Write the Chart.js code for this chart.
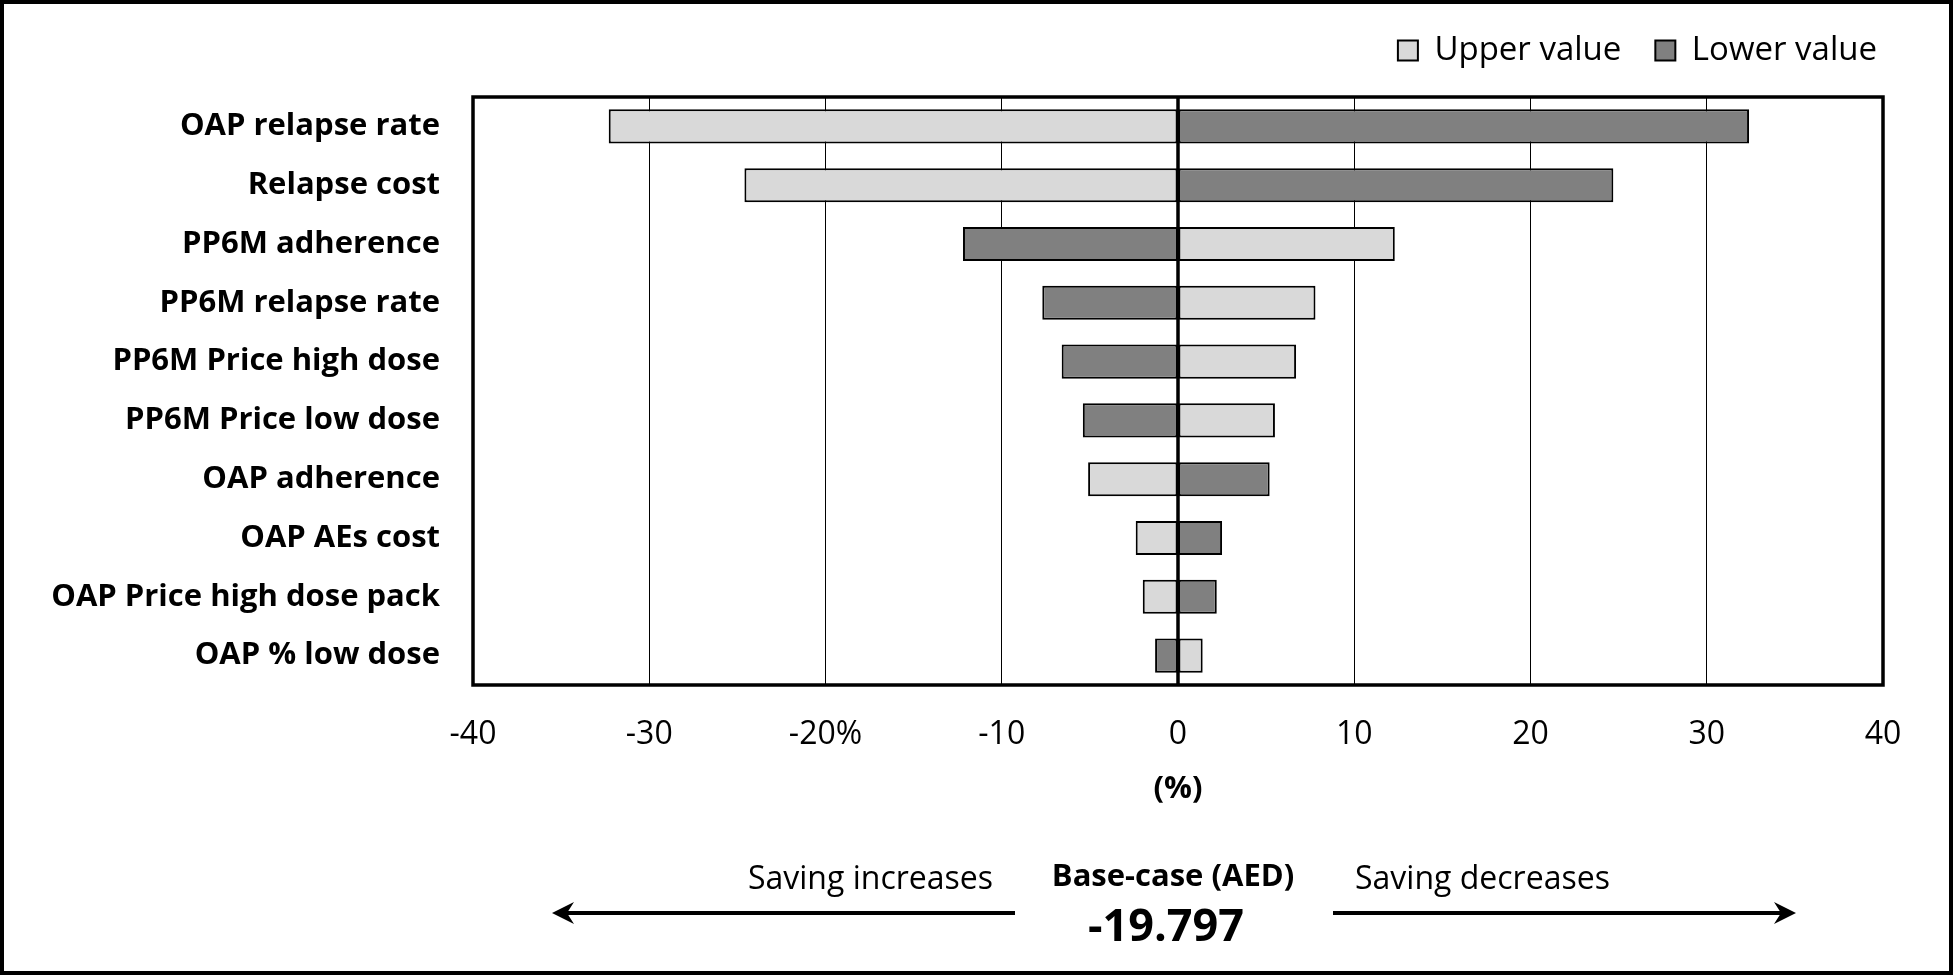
<!DOCTYPE html>
<html lang="en">
<head>
    <meta charset="UTF-8">
    <title>Tornado diagram - base case</title>
    <script src="https://cdn.jsdelivr.net/npm/chart.js"></script>
    <style>
        html, body {
            margin: 0;
            padding: 0;
            background: #ffffff;
        }

        .chart-container {
            width: 1953px;
            height: 975px;
            position: relative;
        }
    </style>
</head>
<body>
    <div class="chart-container">
        <canvas id="tornado-chart" width="1953" height="975"></canvas>
    </div>

    <script>
        // Parameters, top to bottom
        const categories = [
            'OAP relapse rate',
            'Relapse cost',
            'PP6M adherence',
            'PP6M relapse rate',
            'PP6M Price high dose',
            'PP6M Price low dose',
            'OAP adherence',
            'OAP AEs cost',
            'OAP Price high dose pack',
            'OAP % low dose'
        ];

        // % change vs base case
        const upperValues = [-32.3, -24.6, 12.3, 7.8, 6.7, 5.5, -5.1, -2.4, -2.0, 1.4];
        const lowerValues = [32.4, 24.7, -12.2, -7.7, -6.6, -5.4, 5.2, 2.5, 2.2, -1.3];

        const xTickLabels = ['-40', '-30', '-20%', '-10', '0', '10', '20', '30', '40'];
        const xTitle = '(%)';
        const baseCaseLabel = 'Base-case (AED)';
        const baseCaseValue = '-19.797';
        const leftNote = 'Saving increases';
        const rightNote = 'Saving decreases';

        const FONT = '"Open Sans", "Noto Sans", sans-serif';

        // frame around plot, zero line on top of bars, notes + arrows below
        const framePlugin = {
            id: 'frame',
            afterDatasetsDraw(chart) {
                const { ctx, chartArea: a, scales: { x } } = chart;
                const x0 = x.getPixelForValue(0);
                ctx.save();
                ctx.strokeStyle = '#000';
                ctx.lineWidth = 3.5;
                ctx.beginPath();
                ctx.moveTo(x0, a.top);
                ctx.lineTo(x0, a.bottom);
                ctx.stroke();
                ctx.strokeRect(a.left, a.top, a.right - a.left, a.bottom - a.top);
                ctx.restore();
            },
            afterDraw(chart) {
                const { ctx, width, height, scales: { x } } = chart;
                const x0 = x.getPixelForValue(0);
                const cx = x0 - 5;
                ctx.save();
                ctx.fillStyle = '#000';
                ctx.textBaseline = 'middle';

                ctx.font = '32px ' + FONT;
                ctx.textAlign = 'right';
                ctx.fillText(leftNote, x0 - 185, 880);
                ctx.textAlign = 'left';
                ctx.fillText(rightNote, x0 + 177, 880);

                ctx.textAlign = 'center';
                ctx.font = 'bold 31px ' + FONT;
                ctx.fillText(baseCaseLabel, cx, 877);
                ctx.font = 'bold 45px ' + FONT;
                ctx.fillText(baseCaseValue, x0 - 12, 928);

                // arrows
                const ay = 913;
                drawArrow(ctx, x0 - 163, x0 - 626, ay);
                drawArrow(ctx, x0 + 155, x0 + 618, ay);

                // outer border
                ctx.strokeStyle = '#000';
                ctx.lineWidth = 4;
                ctx.strokeRect(2, 2, width - 4, height - 4);
                ctx.restore();
            }
        };

        function drawArrow(ctx, fromX, toX, y) {
            const dir = toX > fromX ? 1 : -1;
            ctx.strokeStyle = '#000';
            ctx.lineWidth = 4;
            ctx.beginPath();
            ctx.moveTo(fromX, y);
            ctx.lineTo(toX - dir * 12, y);
            ctx.stroke();
            ctx.beginPath();
            ctx.moveTo(toX, y);
            ctx.lineTo(toX - dir * 22, y - 11);
            ctx.lineTo(toX - dir * 15, y);
            ctx.lineTo(toX - dir * 22, y + 11);
            ctx.closePath();
            ctx.fill();
        }

        const ctx = document.getElementById('tornado-chart').getContext('2d');
        const chart = new Chart(ctx, {
            type: 'bar',
            data: {
                labels: categories,
                datasets: [{
                    label: 'Upper value',
                    data: upperValues,
                    xAxisID: 'x',
                    yAxisID: 'y',
                    backgroundColor: '#d9d9d9',
                    borderColor: '#000',
                    borderWidth: 2,
                    borderSkipped: false
                }, {
                    label: 'Lower value',
                    data: lowerValues,
                    xAxisID: 'x',
                    yAxisID: 'y',
                    backgroundColor: '#808080',
                    borderColor: '#000',
                    borderWidth: 2,
                    borderSkipped: false
                }]
            },
            options: {
                indexAxis: 'y',
                responsive: false,
                animation: false,
                categoryPercentage: 0.58,
                barPercentage: 1,
                layout: {
                    padding: { top: 0, right: 42, bottom: 167, left: 0 }
                },
                scales: {
                    x: {
                        stacked: true,
                        min: -40,
                        max: 40,
                        border: { display: false },
                        grid: {
                            color: '#000',
                            lineWidth: 1,
                            drawTicks: false
                        },
                        ticks: {
                            stepSize: 10,
                            padding: 31,
                            color: '#000',
                            font: { family: FONT, size: 32 },
                            callback: (v, i) => xTickLabels[i]
                        },
                        title: {
                            display: true,
                            text: xTitle,
                            color: '#000',
                            padding: 0,
                            font: { family: FONT, size: 31, weight: 'bold' }
                        },
                        afterFit: (scale) => { scale.height = 123; }
                    },
                    y: {
                        type: 'category',
                        stacked: true,
                        border: { display: false },
                        grid: { display: false },
                        ticks: {
                            padding: 25,
                            color: '#000',
                            font: { family: FONT, size: 31, weight: 'bold' }
                        },
                        afterFit: (scale) => { scale.width = 473; }
                    },
                    // empty axes, only keep gaps around the plot
                    xGap: {
                        type: 'linear',
                        position: 'top',
                        min: -40,
                        max: 40,
                        border: { display: false },
                        grid: { display: false },
                        ticks: { display: false },
                        afterFit: (scale) => { scale.height = 20; }
                    },
                    yGap: {
                        type: 'linear',
                        position: 'right',
                        border: { display: false },
                        grid: { display: false },
                        ticks: { display: false },
                        afterFit: (scale) => { scale.width = 28; }
                    }
                },
                plugins: {
                    legend: {
                        position: 'top',
                        align: 'end',
                        labels: {
                            boxWidth: 20,
                            boxHeight: 20,
                            padding: 34,
                            color: '#000',
                            font: { family: FONT, size: 33 }
                        }
                    },
                    tooltip: { enabled: false }
                }
            },
            plugins: [framePlugin]
        });
    </script>
</body>
</html>
